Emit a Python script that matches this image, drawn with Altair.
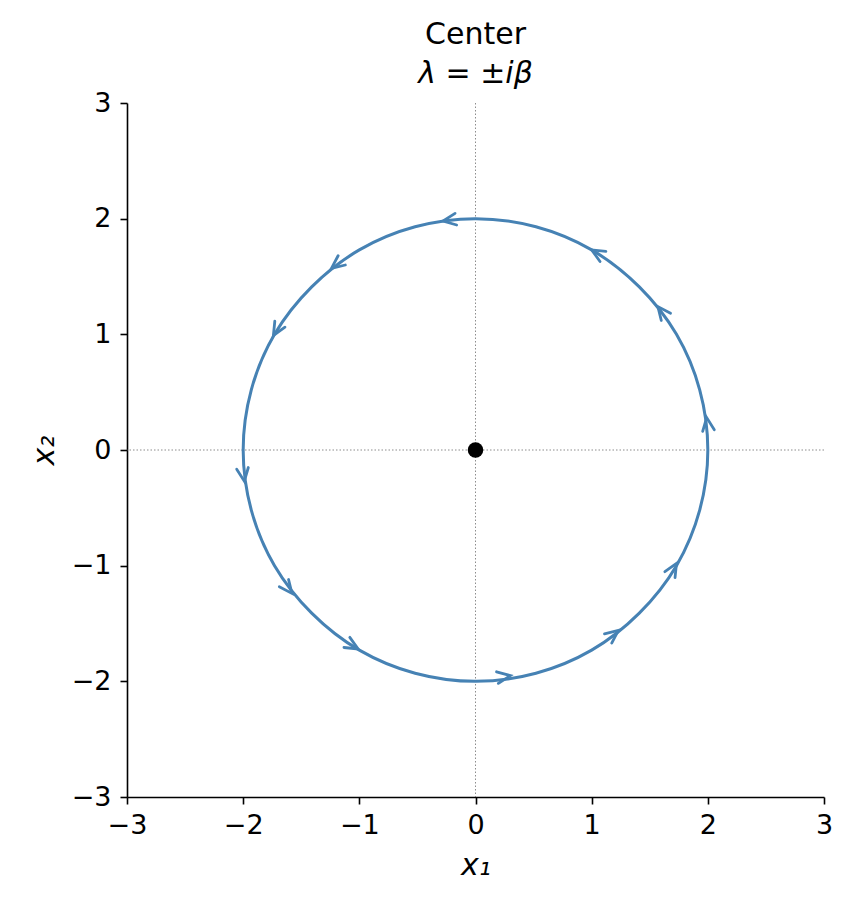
import altair as alt
import pandas as pd

# Trajectory (circle of radius 2), in order (counter-clockwise)
circle_x = [2.0, 1.93, 1.73, 1.41, 1.0, 0.52, 0.0, -0.52, -1.0, -1.41, -1.73, -1.93,
            -2.0, -1.93, -1.73, -1.41, -1.0, -0.52, 0.0, 0.52, 1.0, 1.41, 1.73, 1.93]
circle_y = [0.0, 0.52, 1.0, 1.41, 1.73, 1.93, 2.0, 1.93, 1.73, 1.41, 1.0, 0.52,
            0.0, -0.52, -1.0, -1.41, -1.73, -1.93, -2.0, -1.93, -1.73, -1.41, -1.0, -0.52]

# Arrow heads: tip position and heading (degrees, counter-clockwise from +x1)
arrow_x = [-0.28, -1.24, -1.74, -1.99, -1.58, -1.01, 0.30, 1.23, 1.73, 1.99, 1.57, 1.00]
arrow_y = [1.98, 1.57, 0.99, -0.27, -1.24, -1.72, -1.95, -1.56, -0.98, 0.28, 1.24, 1.73]
arrow_heading = [188, 218, 240, 278, 308, 330, 9, 38, 60, 98, 128, 150]

eq_x = [0.0]
eq_y = [0.0]

ticks = [-3, -2, -1, 0, 1, 2, 3]

BLUE = "#4682b4"
FONT = "DejaVu Sans"

circle_df = pd.DataFrame({"x1": circle_x, "x2": circle_y, "k": list(range(len(circle_x)))})
arrow_df = pd.DataFrame({"x1": arrow_x, "x2": arrow_y, "heading": arrow_heading})
eq_df = pd.DataFrame({"x1": eq_x, "x2": eq_y})

xscale = alt.Scale(domain=[-3, 3], nice=False, zero=False)
yscale = alt.Scale(domain=[-3, 3], nice=False, zero=False)

xenc = alt.X("x1:Q", scale=xscale,
             axis=alt.Axis(values=ticks, format="d", title="x₁", grid=False, labelFlush=False))
yenc = alt.Y("x2:Q", scale=yscale,
             axis=alt.Axis(values=ticks, format="d", title="x₂", grid=False, labelFlush=False))

vline = alt.Chart(eq_df).mark_rule(color="#808080", strokeWidth=0.9, strokeDash=[1.5, 2]).encode(
    x=alt.X("x1:Q", scale=xscale)
)
hline = alt.Chart(eq_df).mark_rule(color="#808080", strokeWidth=0.9, strokeDash=[1.5, 2]).encode(
    y=alt.Y("x2:Q", scale=yscale)
)

circle = alt.Chart(circle_df).mark_line(
    color=BLUE, strokeWidth=3, interpolate="cardinal-closed"
).encode(x=xenc, y=yenc, order="k:Q")

arrow_path = "M-1,-0.45L0,0L-1,0.45"
arrows = alt.Chart(arrow_df).transform_calculate(
    rot="(360 - datum.heading) % 360"
).mark_point(
    shape=arrow_path, filled=False, color=BLUE, strokeWidth=2.8, size=680,
    opacity=1, strokeCap="round", strokeJoin="miter"
).encode(
    x=alt.X("x1:Q", scale=xscale),
    y=alt.Y("x2:Q", scale=yscale),
    angle=alt.Angle("rot:Q", scale=None),
)

dot = alt.Chart(eq_df).mark_circle(color="black", size=240, opacity=1).encode(
    x=alt.X("x1:Q", scale=xscale),
    y=alt.Y("x2:Q", scale=yscale),
)

chart = alt.layer(vline, hline, circle, arrows, dot).properties(
    width=697,
    height=694,
    title=alt.TitleParams(
        text="Center",
        subtitle="λ = ±iβ",
        font=FONT, fontSize=30, fontWeight="normal", color="black",
        subtitleFont=FONT, subtitleFontSize=30, subtitleFontStyle="italic",
        subtitleColor="black", subtitlePadding=9,
        anchor="middle", frame="group", offset=0,
    ),
    padding={"left": 21, "top": 12, "right": 5, "bottom": 5},
).configure_view(stroke=None).configure_axis(
    labelFont=FONT, labelFontSize=27, labelColor="black",
    titleFont=FONT, titleFontSize=30, titleFontWeight="normal",
    titleFontStyle="italic", titleColor="black",
    domainColor="black", domainWidth=1.6,
    tickColor="black", tickWidth=1.6, tickSize=7,
    labelPadding=8, titlePadding=12,
).configure_axisY(labelPadding=9)

chart.save("out.html", embed_options={"renderer": "svg", "actions": False})
